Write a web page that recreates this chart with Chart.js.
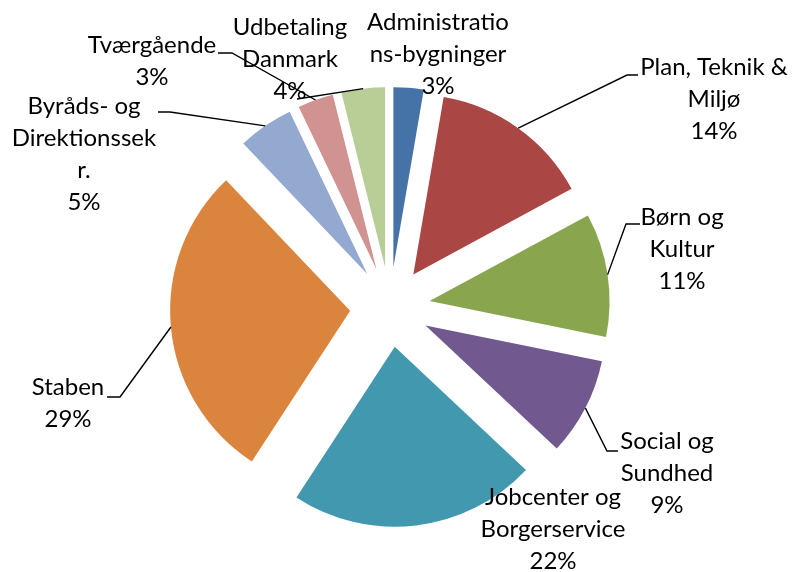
<!DOCTYPE html>
<html>
<head>
<meta charset="utf-8">
<script src="https://cdn.jsdelivr.net/npm/chart.js@4/dist/chart.umd.min.js"></script>
<style>
  html, body { margin: 0; padding: 0; background: #fff; }
  #wrap { width: 795px; height: 572px; position: relative; }
</style>
</head>
<body>
<div id="wrap"><canvas id="c"></canvas></div>
<script>
// ---- data ----
const categories = [
  'Administrationsbygninger',
  'Plan, Teknik & Miljø',
  'Børn og Kultur',
  'Social og Sundhed',
  'Jobcenter og Borgerservice',
  'Staben',
  'Byråds- og Direktionssekr.',
  'Tværgående',
  'Udbetaling Danmark'
];
const values = [2.7, 14.4, 11.1, 8.8, 22.2, 28.7, 5.0, 3.2, 3.9];
const labelLines = [
  ['Administratio', 'ns-bygninger'],
  ['Plan, Teknik &', 'Miljø'],
  ['Børn og', 'Kultur'],
  ['Social og', 'Sundhed'],
  ['Jobcenter og', 'Borgerservice'],
  ['Staben'],
  ['Byråds- og', 'Direktionssek', 'r.'],
  ['Tværgående'],
  ['Udbetaling', 'Danmark']
];
const colors = ['#4572A7', '#AA4643', '#89A54E', '#71588F', '#4198AF', '#DB843D', '#93A9CF', '#D19392', '#B9CD96'];

// ---- layout / style (not data) ----
const RADIUS = 180;
const EXPLODE = 40;          // desired translation of each slice in px
const FONT = '24px Lato';
const LINE_H = 32;
// text centre (x, first-line centre y) and leader elbow points
const labelLayout = [
  { x: 438, y: 22,  leader: null },
  { x: 714, y: 67,  leader: [[627, 75], [638, 75]] },
  { x: 682, y: 217, leader: [[626, 224], [640, 224]] },
  { x: 667, y: 441, leader: [[607, 451], [618, 451]] },
  { x: 553, y: 497, leader: null },
  { x: 68,  y: 387, leader: [[120, 397], [107, 397]] },
  { x: 84,  y: 106, leader: [[170, 112], [158, 112]] },
  { x: 152, y: 45,  leader: [[232, 53], [218, 53]] },
  { x: 290, y: 27,  leader: [[297, 99]] }
];

const total = values.reduce((a, b) => a + b, 0);

// Chart.js enlarges/narrows small offset slices; undo that so every
// exploded slice keeps the same radius and its true angle (Excel style).
const uniformExplode = {
  id: 'uniformExplode',
  afterDatasetUpdate(chart, args) {
    const meta = chart.getDatasetMeta(args.index);
    meta.data.forEach(arc => {
      const ro = EXPLODE * (1 - Math.sin(Math.min(Math.PI, arc.circumference || 0)));
      arc.outerRadius = RADIUS - ro;
      const a = ro / (Math.PI * RADIUS) / 2;
      arc.startAngle -= a;
      arc.endAngle += a;
    });
  }
};

const labelPlugin = {
  id: 'excelLabels',
  afterDatasetsDraw(chart) {
    const ctx = chart.ctx;
    const meta = chart.getDatasetMeta(0);
    ctx.save();
    ctx.font = FONT;
    ctx.fillStyle = '#000';
    ctx.textAlign = 'center';
    ctx.textBaseline = 'middle';
    ctx.strokeStyle = '#000';
    ctx.lineWidth = 1.4;
    meta.data.forEach((arc, i) => {
      const lay = labelLayout[i];
      const lines = labelLines[i].concat([Math.round(values[i] / total * 100) + '%']);
      lines.forEach((t, k) => ctx.fillText(t, lay.x, lay.y + k * LINE_H));
      if (lay.leader) {
        const mid = (arc.startAngle + arc.endAngle) / 2;
        const r = RADIUS + EXPLODE;
        ctx.beginPath();
        ctx.moveTo(arc.x + Math.cos(mid) * r, arc.y + Math.sin(mid) * r);
        lay.leader.forEach(p => ctx.lineTo(p[0], p[1]));
        ctx.stroke();
      }
    });
    ctx.restore();
  }
};

new Chart(document.getElementById('c'), {
  type: 'pie',
  data: {
    labels: categories,
    datasets: [{
      data: values,
      backgroundColor: colors,
      borderWidth: 0,
      offset: EXPLODE * 4
    }]
  },
  options: {
    responsive: true,
    maintainAspectRatio: false,
    animation: false,
    events: [],
    radius: RADIUS,
    layout: { padding: { left: 0, right: 15, top: 42, bottom: 0 } },
    plugins: { legend: { display: false }, tooltip: { enabled: false } }
  },
  plugins: [uniformExplode, labelPlugin]
});
</script>
</body>
</html>
